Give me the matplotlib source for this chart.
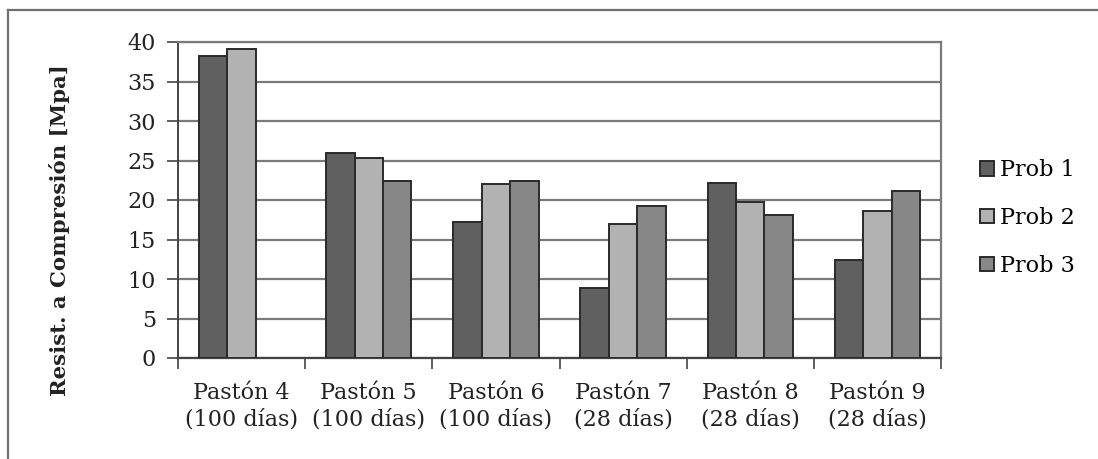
import numpy as np
import matplotlib
matplotlib.use('Agg')
import matplotlib.pyplot as plt
from matplotlib.lines import Line2D

# -> Compressive strength per batch and specimen
pastones = ['Pastón 4\n(100 días)', 'Pastón 5\n(100 días)', 'Pastón 6\n(100 días)',
            'Pastón 7\n(28 días)', 'Pastón 8\n(28 días)', 'Pastón 9\n(28 días)']
prob_1 = [38.2, 26.0, 17.2, 8.9, 22.1, 12.4]
prob_2 = [39.1, 25.3, 22.0, 17.0, 19.7, 18.6]
prob_3 = [np.nan, 22.4, 22.4, 19.2, 18.1, 21.2]
series = ['Prob 1', 'Prob 2', 'Prob 3']
colores = ['#606060', '#b2b2b2', '#878787']
y_ticks = [0, 5, 10, 15, 20, 25, 30, 35, 40]

plt.rcParams['font.family'] = ['DejaVu Serif']
fs = 16

W, H = 1098, 459
fig = plt.figure(figsize=(W / 100, H / 100), dpi=100)
ax = fig.add_axes([178 / W, 1 - 358 / H, (941 - 178) / W, (358 - 42) / H])

x = np.arange(len(pastones))
ancho = 0.224
for i, (vals, lab, col) in enumerate(zip([prob_1, prob_2, prob_3], series, colores)):
    ax.bar(x + (i - 1) * ancho, vals, width=ancho, color=col, edgecolor='#2a2a2a',
           linewidth=1.4, label=lab, zorder=3)

ax.set_xlim(-0.5, len(pastones) - 0.5)
ax.set_ylim(0, 40)
ax.set_yticks(y_ticks)
ax.tick_params(axis='y', length=8, width=1.2, color='#444444', pad=8, labelsize=fs,
               labelcolor='#222222')

# -> Category ticks sit between groups, labels centred under each group
ax.set_xticks(np.arange(-0.5, len(pastones), 1.0))
ax.set_xticklabels([])
ax.set_xticks(x, minor=True)
ax.set_xticklabels(pastones, minor=True, fontsize=fs, color='#222222', linespacing=1.3)
ax.tick_params(axis='x', which='major', length=8, width=1.2, color='#444444')
ax.tick_params(axis='x', which='minor', length=0, pad=17)

ax.yaxis.grid(True, color='#7a7a7a', linewidth=1.6, zorder=0)
for s in ['top', 'right']:
    ax.spines[s].set_color('#7a7a7a')
    ax.spines[s].set_linewidth(1.6)
ax.spines['left'].set_color('#444444')
ax.spines['bottom'].set_color('#444444')
ax.spines['left'].set_linewidth(1.4)
ax.spines['bottom'].set_linewidth(1.6)

fig.text(60 / W, 1 - 230 / H, 'Resist. a Compresión [Mpa]', rotation=90, ha='center',
         va='center', fontsize=15.3, fontweight='bold', color='#222222')

# -> Legend to the right of the plot
handles, labels = ax.get_legend_handles_labels()
fig.legend(handles, labels, loc='center left', bbox_to_anchor=(980 / W, 1 - 218 / H),
           frameon=False, fontsize=fs, handlelength=0.62, handleheight=0.62,
           handletextpad=0.3, labelspacing=1.15, borderpad=0, borderaxespad=0)

# -> Outer frame (top and left edges)
fig.add_artist(Line2D([8 / W, 8 / W], [0, 1 - 10 / H], color='#6e6e6e', linewidth=1.6))
fig.add_artist(Line2D([8 / W, 1], [1 - 10 / H, 1 - 10 / H], color='#6e6e6e', linewidth=1.6))

fig.savefig('out.png', dpi=100)
